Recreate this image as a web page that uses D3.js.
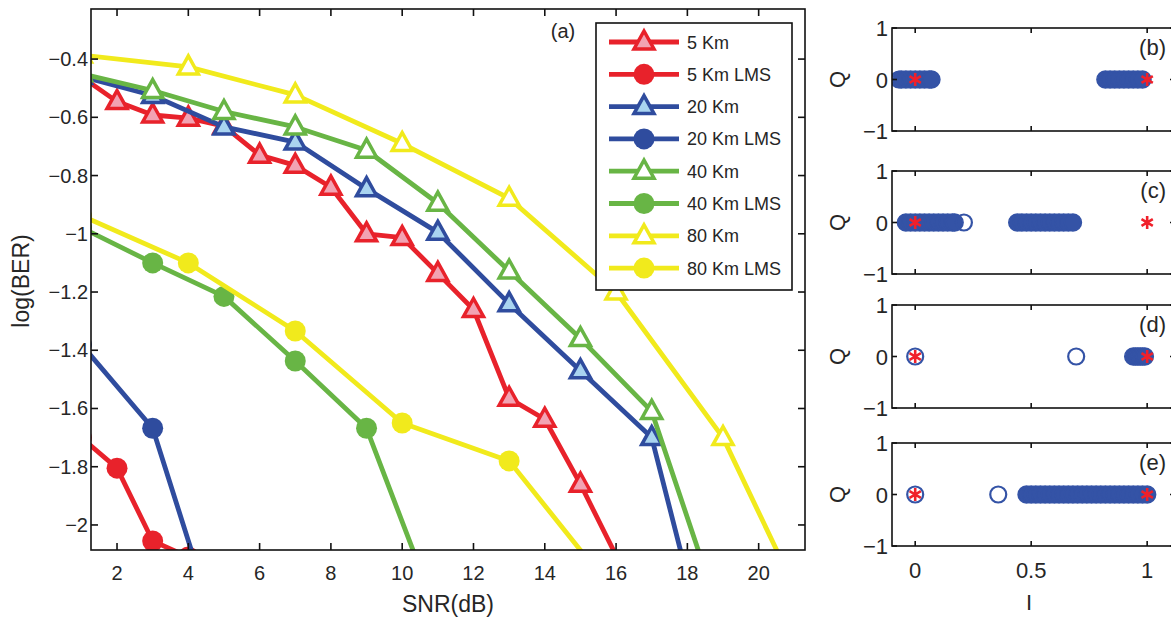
<!DOCTYPE html>
<html>
<head>
<meta charset="utf-8">
<title>BER vs SNR and constellations</title>
<script src="https://d3js.org/d3.v7.min.js"></script>
<style>
  body { margin: 0; background: #fff; }
  text { font-family: "Liberation Sans", Arial, sans-serif; fill: #262626; }
</style>
</head>
<body>
<script>
// ---- panel (a) data: SNR (dB) and log(BER) ----
const snr5 = [1, 2, 3, 4, 5, 6, 7, 8, 9, 10, 11, 12, 13, 14, 15, 17];
const ber5 = [-0.46, -0.546, -0.592, -0.603, -0.63, -0.73, -0.765, -0.84, -1.0, -1.013, -1.136, -1.26, -1.565, -1.637, -1.86, -2.35];
const snr5lms = [1, 2, 3, 4];
const ber5lms = [-1.70, -1.805, -2.055, -2.11];
const snr20 = [1, 3, 5, 7, 9, 11, 13, 15, 17, 19];
const ber20 = [-0.46, -0.525, -0.633, -0.685, -0.845, -0.995, -1.24, -1.47, -1.70, -2.66];
const snr20lms = [1, 3, 5];
const ber20lms = [-1.38, -1.668, -2.44];
const snr40 = [1, 3, 5, 7, 9, 11, 13, 15, 17, 19];
const ber40 = [-0.45, -0.508, -0.58, -0.633, -0.713, -0.895, -1.128, -1.36, -1.61, -2.34];
const snr40lms = [1, 3, 5, 7, 9, 11];
const ber40lms = [-0.979, -1.10, -1.215, -1.437, -1.668, -2.31];
const snr80 = [1, 4, 7, 10, 13, 16, 19, 22];
const ber80 = [-0.386, -0.427, -0.523, -0.69, -0.878, -1.2, -1.70, -2.47];
const snr80lms = [1, 4, 7, 10, 13, 16];
const ber80lms = [-0.938, -1.10, -1.334, -1.65, -1.78, -2.24];

const legendNames = ["5 Km", "5 Km LMS", "20 Km", "20 Km LMS", "40 Km", "40 Km LMS", "80 Km", "80 Km LMS"];
const xTicksA = [2, 4, 6, 8, 10, 12, 14, 16, 18, 20];
const yTicksA = [-2, -1.8, -1.6, -1.4, -1.2, -1, -0.8, -0.6, -0.4];

// ---- panels (b)-(e): I values of received symbols (Q = 0) ----
const bFilled = [-0.06, -0.04, -0.02, 0, 0.02, 0.04, 0.06, 0.07, 0.82, 0.84, 0.86, 0.88, 0.9, 0.92, 0.94, 0.96, 0.98];
const bOpen = [-0.07];
const cFilled = [-0.04, -0.02, 0, 0.02, 0.04, 0.06, 0.08, 0.1, 0.12, 0.14, 0.16, 0.17, 0.44, 0.46, 0.48, 0.5, 0.52, 0.54, 0.56, 0.58, 0.6, 0.62, 0.64, 0.66, 0.68];
const cOpen = [0.21];
const dFilled = [0.94, 0.95, 0.96, 0.97, 0.98, 0.99];
const dOpen = [0, 0.694];
const eFilled = [0.48, 0.5, 0.52, 0.54, 0.56, 0.58, 0.6, 0.62, 0.64, 0.66, 0.68, 0.7, 0.72, 0.74, 0.76, 0.78, 0.8, 0.82, 0.84, 0.86, 0.88, 0.9, 0.92, 0.94, 0.96, 0.98, 1.0];
const eOpen = [0, 0.358];
const refSymbols = [0, 1];
const panelLabels = ["(b)", "(c)", "(d)", "(e)"];
const xTicksIQ = [0, 0.5, 1];
const yTicksIQ = [-1, 0, 1];

const red = "#e8222b", blue = "#2f4c9e", green = "#68b545", yellow = "#f1ea1c";

const series = [
  { x: snr5, y: ber5, color: red, mark: "tri", face: "#f2a3b3" },
  { x: snr5lms, y: ber5lms, color: red, mark: "dot" },
  { x: snr20, y: ber20, color: blue, mark: "tri", face: "#a9d4f0" },
  { x: snr20lms, y: ber20lms, color: blue, mark: "dot" },
  { x: snr40, y: ber40, color: green, mark: "tri", face: "#ffffff" },
  { x: snr40lms, y: ber40lms, color: green, mark: "dot" },
  { x: snr80, y: ber80, color: yellow, mark: "tri", face: "#ffffff" },
  { x: snr80lms, y: ber80lms, color: yellow, mark: "dot" }
];

const W = 1171, H = 619;
const svg = d3.select("body").append("svg").attr("width", W).attr("height", H);

const fmt = d => (d < 0 ? "\u2212" : "") + String(Math.abs(+d.toFixed(1)));

// ---------------- panel (a) ----------------
const A = { left: 91, right: 805, top: 9, bottom: 550 };
const x = d3.scaleLinear().domain([1.27, 21.3]).range([A.left, A.right]);
const y = d3.scaleLinear().domain([-2.086, -0.228]).range([A.bottom, A.top]);

svg.append("clipPath").attr("id", "clipA")
  .append("rect").attr("x", A.left).attr("y", A.top)
  .attr("width", A.right - A.left).attr("height", A.bottom - A.top);

const triPath = "M0,-11L10,7L-10,7Z";
const line = d3.line().x(d => x(d[0])).y(d => y(d[1]));
const plot = svg.append("g").attr("clip-path", "url(#clipA)");

function drawMarker(g, s, px, py) {
  if (s.mark === "tri") {
    g.append("path").attr("d", triPath).attr("transform", `translate(${px},${py})`)
      .attr("fill", s.face).attr("stroke", s.color).attr("stroke-width", 3.5)
      .attr("stroke-linejoin", "miter");
  } else {
    g.append("circle").attr("cx", px).attr("cy", py).attr("r", 10.5).attr("fill", s.color);
  }
}

series.forEach(s => {
  const pts = s.x.map((v, i) => [v, s.y[i]]);
  plot.append("path").attr("d", line(pts)).attr("fill", "none")
    .attr("stroke", s.color).attr("stroke-width", 4.8).attr("stroke-linejoin", "round");
  pts.forEach(p => drawMarker(plot, s, x(p[0]), y(p[1])));
});

// axes box with inward ticks
function boxAxes(g, xs, ys, xt, yt, b, tl) {
  g.append("rect").attr("x", b.left).attr("y", b.top)
    .attr("width", b.right - b.left).attr("height", b.bottom - b.top)
    .attr("fill", "none").attr("stroke", "#111").attr("stroke-width", 1.6);
  xt.forEach(t => {
    g.append("line").attr("x1", xs(t)).attr("x2", xs(t)).attr("y1", b.bottom).attr("y2", b.bottom - tl).attr("stroke", "#111").attr("stroke-width", 1.6);
    g.append("line").attr("x1", xs(t)).attr("x2", xs(t)).attr("y1", b.top).attr("y2", b.top + tl).attr("stroke", "#111").attr("stroke-width", 1.6);
  });
  yt.forEach(t => {
    g.append("line").attr("y1", ys(t)).attr("y2", ys(t)).attr("x1", b.left).attr("x2", b.left + tl).attr("stroke", "#111").attr("stroke-width", 1.6);
    g.append("line").attr("y1", ys(t)).attr("y2", ys(t)).attr("x1", b.right).attr("x2", b.right - tl).attr("stroke", "#111").attr("stroke-width", 1.6);
  });
}
boxAxes(svg, x, y, xTicksA, yTicksA, A, 7);

svg.append("g").selectAll("text").data(xTicksA).join("text")
  .attr("x", d => x(d)).attr("y", 580).attr("text-anchor", "middle")
  .attr("font-size", 20).text(d => d);
svg.append("g").selectAll("text").data(yTicksA).join("text")
  .attr("x", 88).attr("y", d => y(d) + 7).attr("text-anchor", "end")
  .attr("font-size", 20).text(fmt);

svg.append("text").attr("x", 448).attr("y", 612).attr("text-anchor", "middle")
  .attr("font-size", 23).text("SNR(dB)");
svg.append("text").attr("transform", "translate(29,281) rotate(-90)")
  .attr("text-anchor", "middle").attr("font-size", 23).text("log(BER)");
svg.append("text").attr("x", 563).attr("y", 38).attr("text-anchor", "middle")
  .attr("font-size", 20).text("(a)");

// legend
const L = { left: 596, top: 23, w: 196, h: 267 };
const leg = svg.append("g");
leg.append("rect").attr("x", L.left).attr("y", L.top).attr("width", L.w).attr("height", L.h)
  .attr("fill", "#fff").attr("stroke", "#111").attr("stroke-width", 1.6);
series.forEach((s, i) => {
  const cy = 42 + i * 32.3;
  leg.append("line").attr("x1", 609).attr("x2", 679).attr("y1", cy).attr("y2", cy)
    .attr("stroke", s.color).attr("stroke-width", 4.8);
  drawMarker(leg, s, 644, cy);
  leg.append("text").attr("x", 687).attr("y", cy + 6.5).attr("font-size", 18).text(legendNames[i]);
});

// ---------------- panels (b)-(e) ----------------
const panels = [
  { top: 28, filled: bFilled, open: bOpen },
  { top: 171, filled: cFilled, open: cOpen },
  { top: 305, filled: dFilled, open: dOpen },
  { top: 443, filled: eFilled, open: eOpen }
];
const PH = 103;
const xi = d3.scaleLinear().domain([-0.1, 1.12]).range([892, 1175]);
const dotBlue = "#3453a6", starRed = "#f0202a";

panels.forEach((p, k) => {
  const b = { left: 892, right: 1175, top: p.top, bottom: p.top + PH };
  const yq = d3.scaleLinear().domain([-1, 1]).range([b.bottom, b.top]);
  const g = svg.append("g");
  const cid = "clipP" + k;
  svg.append("clipPath").attr("id", cid).append("rect")
    .attr("x", b.left).attr("y", b.top).attr("width", b.right - b.left).attr("height", PH);
  const inner = g.append("g").attr("clip-path", `url(#${cid})`);

  inner.selectAll("circle.f").data(p.filled).join("circle").attr("class", "f")
    .attr("cx", d => xi(d)).attr("cy", yq(0)).attr("r", 8.5)
    .attr("fill", dotBlue).attr("stroke", dotBlue).attr("stroke-width", 1.5);
  inner.selectAll("circle.o").data(p.open).join("circle").attr("class", "o")
    .attr("cx", d => xi(d)).attr("cy", yq(0)).attr("r", 8)
    .attr("fill", "none").attr("stroke", dotBlue).attr("stroke-width", 2.2);
  inner.selectAll("path.star").data(refSymbols).join("path").attr("class", "star")
    .attr("d", d3.symbol(d3.symbolAsterisk, 120)())
    .attr("transform", d => `translate(${xi(d)},${yq(0)})`)
    .attr("fill", "none").attr("stroke", starRed).attr("stroke-width", 2.6);

  boxAxes(g, xi, yq, xTicksIQ, yTicksIQ, b, 5);

  g.selectAll("text.yt").data(yTicksIQ).join("text").attr("class", "yt")
    .attr("x", 888).attr("y", d => yq(d) + 8).attr("text-anchor", "end")
    .attr("font-size", 22).text(d => (d < 0 ? "\u2212" : "") + Math.abs(d));
  g.append("text").attr("transform", `translate(845,${yq(0)}) rotate(-90)`)
    .attr("text-anchor", "middle").attr("font-size", 22).text("Q");
  g.append("text").attr("x", 1166).attr("y", p.top + 27).attr("text-anchor", "end")
    .attr("font-size", 22).text(panelLabels[k]);

  if (k === panels.length - 1) {
    g.selectAll("text.xt").data(xTicksIQ).join("text").attr("class", "xt")
      .attr("x", d => xi(d)).attr("y", b.bottom + 32).attr("text-anchor", "middle")
      .attr("font-size", 22).text(d => d);
    g.append("text").attr("x", 1029).attr("y", 610).attr("text-anchor", "middle")
      .attr("font-size", 22).text("I");
  }
});
</script>
</body>
</html>
